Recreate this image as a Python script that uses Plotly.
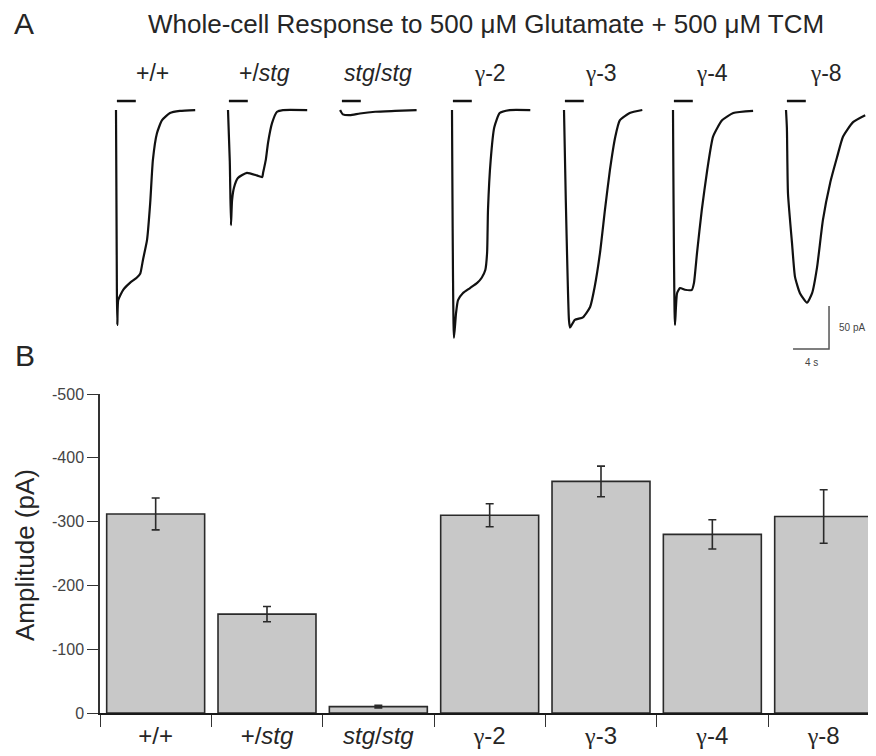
import plotly.graph_objects as go

G = '<span style="font-family:Liberation Serif, DejaVu Serif, serif">γ</span>'

# ---------------- Panel B data ----------------
categories = ["+/+", "+/<i>stg</i>", "<i>stg</i>/<i>stg</i>", G + "-2", G + "-3", G + "-4", G + "-8"]
amplitude_pA = [-312, -155, -10, -310, -363, -280, -308]
amplitude_sem = [25, 12, 2, 18, 24, 23, 42]
y_ticks = [-500, -400, -300, -200, -100, 0]

trace_labels = ["+/+", "+/<i>stg</i>", "<i>stg</i>/<i>stg</i>", G + "-2", G + "-3", G + "-4", G + "-8"]
label_time = [4.0, 4.1, 4.1, 4.2, 4.1, 4.3, 4.4]

t_wt = [0, 0.1, 0.15, 0.25, 0.8, 1.55, 2.3, 2.7, 3.0, 3.45, 3.8, 4.1, 4.55, 5.1, 6.0, 7.1, 8.8]
i_wt = [0, -213, -250, -221, -209, -201, -195, -190, -174, -151, -108, -58, -27, -12, -3.5, -1, 0]

t_het = [0, 0.2, 0.33, 0.45, 0.67, 1.1, 2.1, 3.2, 3.8, 3.9, 4.2, 4.45, 4.9, 5.45, 6.1, 8.8]
i_het = [0, -60, -134, -105, -90, -79, -73, -76, -78, -73, -58, -38, -15, -2, 0, 0]

t_stg = [-0.1, 0.0, 0.2, 1.0, 2.1, 3.8, 6.0, 8.4]
i_stg = [0, -2, -5, -6, -4, -2, -1, 0]

t_g2 = [0, 0.22, 0.45, 0.67, 1.2, 2.0, 2.8, 3.3, 3.7, 3.9, 4.0, 4.3, 4.7, 5.3, 6.4, 8.7]
i_g2 = [0, -265, -236, -221, -213, -207, -201, -195, -186, -166, -116, -58, -20, -3.5, 0, 0]

t_g3 = [0, 0.2, 0.55, 0.67, 1.2, 2.1, 2.9, 3.4, 4.0, 4.55, 5.1, 5.7, 6.2, 7.3, 8.7]
i_g3 = [0, -105, -244, -253, -244, -241, -229, -206, -166, -116, -70, -31, -12, -3.5, 0]

t_g4 = [0, 0.22, 0.45, 0.78, 1.33, 2.1, 2.33, 2.67, 3.2, 3.8, 4.45, 5.45, 6.7, 8.9]
i_g4 = [0, -250, -213, -207, -209, -209, -201, -166, -116, -70, -31, -12, -3.5, -1]

t_g8 = [0, 0.1, 0.22, 0.67, 1.0, 1.55, 2.33, 2.9, 3.45, 4.1, 4.9, 5.67, 6.33, 7.45, 8.8]
i_g8 = [0, -21, -97, -155, -194, -213, -224, -213, -183, -128, -85, -55, -31, -14, -6]

trace_times = [t_wt, t_het, t_stg, t_g2, t_g3, t_g4, t_g8]
trace_currents = [i_wt, i_het, i_stg, i_g2, i_g3, i_g4, i_g8]

# application bar (drug application), s
app_start, app_end, app_level = 0.1, 2.2, 10.5
# scale bar values
scale_time_s, scale_current_pA = 4, 50
scale_corner_t, scale_corner_i = 4.78, -278

# ---------------- layout helpers (page pixel -> paper) ----------------
W, H = 876, 756
OFF = 8  # page body margin offset


def px(x):
    return (x - OFF) / W


def py(y):
    return 1 - (y - OFF) / H


onsets_px = [116, 228, 341, 452, 564, 673, 786]
PX_PER_S = 9.0

TXT = "#262626"
FONT = "Liberation Sans, Arial, sans-serif"

fig = go.Figure()

# ---------------- Panel B bars ----------------
fig.add_trace(go.Bar(
    x=categories, y=amplitude_pA, width=0.88,
    marker=dict(color="#c8c8c8", line=dict(color="#2a2a2a", width=1.6)),
    error_y=dict(type="data", array=amplitude_sem, visible=True,
                 color="#2a2a2a", thickness=1.6, width=4),
    xaxis="x", yaxis="y", showlegend=False, hoverinfo="skip",
))

# ---------------- Panel A traces ----------------
for k in range(7):
    ax = f"x{k+2}"
    fig.add_trace(go.Scatter(
        x=trace_times[k], y=trace_currents[k], mode="lines",
        line=dict(color="#111111", width=2.2, shape="spline", smoothing=0.5),
        xaxis=ax, yaxis="y2", showlegend=False, hoverinfo="skip"))
    fig.add_trace(go.Scatter(
        x=[app_start, app_end], y=[app_level, app_level], mode="lines",
        line=dict(color="#111111", width=2.5),
        xaxis=ax, yaxis="y2", showlegend=False, hoverinfo="skip"))
    fig.add_annotation(x=label_time[k], xref=ax, y=py(73), yref="paper",
                       xanchor="center", yanchor="middle",
                       text=trace_labels[k], showarrow=False,
                       font=dict(size=23, color=TXT, family=FONT))

# scale bar on last trace axis
fig.add_trace(go.Scatter(
    x=[scale_corner_t - scale_time_s, scale_corner_t, scale_corner_t],
    y=[scale_corner_i, scale_corner_i, scale_corner_i + scale_current_pA],
    mode="lines", line=dict(color="#555555", width=1.5),
    xaxis="x8", yaxis="y2", showlegend=False, hoverinfo="skip"))
fig.add_annotation(x=scale_corner_t + 0.9, xref="x8",
                   y=scale_corner_i + scale_current_pA / 2, yref="y2",
                   xanchor="left", yanchor="middle",
                   text=f"{scale_current_pA} pA", showarrow=False,
                   font=dict(size=10, color="#444444", family=FONT))
fig.add_annotation(x=scale_corner_t - scale_time_s / 2, xref="x8",
                   y=scale_corner_i - 16, yref="y2",
                   xanchor="center", yanchor="middle",
                   text=f"{scale_time_s} s", showarrow=False,
                   font=dict(size=10, color="#444444", family=FONT))

layout = dict(
    template="none",
    width=W, height=H, margin=dict(l=0, r=0, t=0, b=0, pad=0, autoexpand=False),
    paper_bgcolor="white", plot_bgcolor="white",
    font=dict(family=FONT, color=TXT),
    bargap=0.12,
    xaxis=dict(domain=[px(100), px(876)], range=[-0.5, 6.47], type="category",
               tickson="boundaries", ticks="outside", ticklen=12, tickwidth=1.2,
               tickcolor="#333333", showline=True, linecolor="#1a1a1a", linewidth=2,
               showgrid=False, zeroline=False, automargin=False,
               tickfont=dict(size=24, color=TXT, family=FONT), anchor="y"),
    yaxis=dict(domain=[py(713), py(394)], range=[0, -500],
               tickmode="array", tickvals=y_ticks, ticktext=[str(v) for v in y_ticks],
               ticks="outside", ticklen=11, tickwidth=1.2, tickcolor="#333333",
               showline=True, linecolor="#333333", linewidth=1.5,
               showgrid=False, zeroline=False, automargin=False,
               tickfont=dict(size=16, color="#444444", family=FONT), anchor="x"),
    yaxis2=dict(domain=[py(370), py(90)], range=[-302.3, 23.3],
                visible=False, anchor="x2", automargin=False),
)
for k in range(7):
    x0 = px(onsets_px[k] - PX_PER_S)
    x1 = min(px(onsets_px[k] + 10 * PX_PER_S), 1.0)
    layout[f"xaxis{k+2}"] = dict(domain=[x0, x1], range=[-1, 10],
                                 visible=False, anchor="y2", automargin=False)
fig.update_layout(**layout)

# Titles / panel letters / axis title
fig.add_annotation(x=px(486), y=py(24), xref="paper", yref="paper",
                   xanchor="center", yanchor="middle",
                   text="Whole-cell Response to 500 μM Glutamate + 500 μM TCM",
                   showarrow=False, font=dict(size=26, color=TXT, family=FONT))
fig.add_annotation(x=px(24), y=py(23), xref="paper", yref="paper", text="A",
                   xanchor="center", yanchor="middle",
                   showarrow=False, font=dict(size=30, color=TXT, family=FONT))
fig.add_annotation(x=px(25), y=py(356), xref="paper", yref="paper", text="B",
                   xanchor="center", yanchor="middle",
                   showarrow=False, font=dict(size=30, color=TXT, family=FONT))
fig.add_annotation(x=px(25), y=py(555), xref="paper", yref="paper",
                   xanchor="center", yanchor="middle",
                   text="Amplitude (pA)", textangle=-90, showarrow=False,
                   font=dict(size=26, color=TXT, family=FONT))

fig.write_html("out.html")
